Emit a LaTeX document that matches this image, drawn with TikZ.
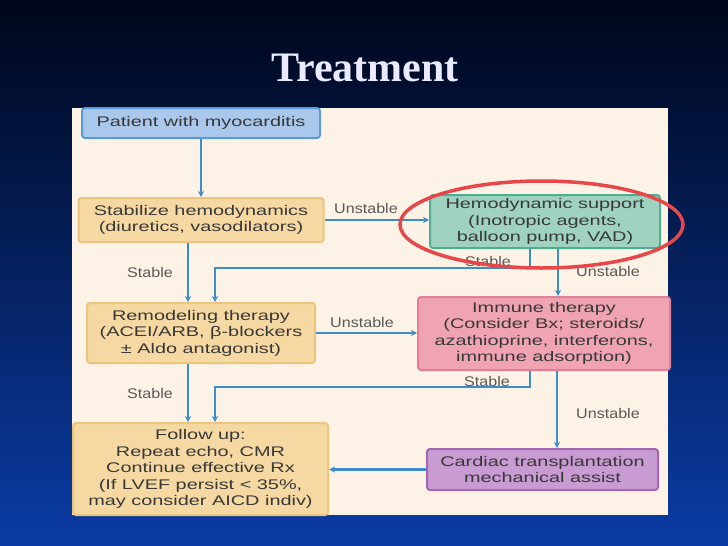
\documentclass[tikz,border=0pt]{standalone}
\usepackage{fontspec}
\usetikzlibrary{arrows.meta}
\newfontfamily\boxfont[FakeStretch=1.42]{Liberation Sans}
\newfontfamily\lblfont[FakeStretch=1.15]{Liberation Sans}
\newfontfamily\titlefont{Liberation Serif}
\definecolor{bgtop}{HTML}{00061A}
\definecolor{bgbot}{HTML}{0A3CA5}
\definecolor{panel}{HTML}{FCF2E6}
\definecolor{conn}{HTML}{3C8DC8}
\definecolor{tanfill}{HTML}{F6D9A2}
\definecolor{tanline}{HTML}{EBC57D}
\definecolor{bluefill}{HTML}{A9C8EC}
\definecolor{blueline}{HTML}{5B9BD5}
\definecolor{greenfill}{HTML}{9FD3BF}
\definecolor{greenline}{HTML}{4DAE93}
\definecolor{pinkfill}{HTML}{EFA3B3}
\definecolor{pinkline}{HTML}{E17F98}
\definecolor{purplefill}{HTML}{C99BD3}
\definecolor{purpleline}{HTML}{A267B0}
\definecolor{ringred}{HTML}{E8474A}
\tikzset{
  box/.style={rounded corners=3pt,line width=2pt,align=center,inner sep=2pt,
    text=black!78,font=\boxfont\fontsize{14pt}{16.5pt}\selectfont},
  tanbox/.style={box,fill=tanfill,draw=tanline},
  arrowline/.style={line width=2.4pt,draw=conn,-{Stealth[length=6pt,width=6pt]}},
  lbl/.style={text=black!65,font=\lblfont\fontsize{14pt}{16pt}\selectfont,inner sep=1pt}
}
\begin{document}
\begin{tikzpicture}[x=1pt,y=-1pt]
\useasboundingbox (0,0) rectangle (728,546);
\shade[top color=bgtop,bottom color=bgbot] (0,0) rectangle (728,546);
\fill[panel] (72,108) rectangle (668,515);
\node[text=white!92!blue,font=\titlefont\bfseries\fontsize{42pt}{46pt}\selectfont] (title) at (365,68) {Treatment};
% boxes
\node[box,fill=bluefill,draw=blueline,minimum width=238pt,minimum height=30pt] (pat) at (201,123) {Patient with myocarditis};
\node[tanbox,minimum width=245pt,minimum height=44pt] (stab) at (201,220) {Stabilize hemodynamics\\(diuretics, vasodilators)};
\node[box,fill=greenfill,draw=greenline,minimum width=230pt,minimum height=53pt] (hemo) at (545,221.5) {Hemodynamic support\\(Inotropic agents,\\balloon pump, VAD)};
\node[tanbox,minimum width=228pt,minimum height=60pt] (remod) at (201,333) {Remodeling therapy\\(ACEI/ARB, β-blockers\\± Aldo antagonist)};
\node[box,fill=pinkfill,draw=pinkline,minimum width=252pt,minimum height=73pt] (immu) at (544,333.5) {Immune therapy\\(Consider Bx; steroids/\\azathioprine, interferons,\\immune adsorption)};
\node[tanbox,minimum width=255pt,minimum height=92pt] (follow) at (200.5,469) {Follow up:\\Repeat echo, CMR\\Continue effective Rx\\(If LVEF persist < 35\%,\\may consider AICD indiv)};
\node[box,fill=purplefill,draw=purpleline,minimum width=231pt,minimum height=41pt] (card) at (542.5,469.5) {Cardiac transplantation\\mechanical assist};
% connectors
\coordinate (s1) at (215,268);
\coordinate (s2) at (215,387);
\draw[arrowline] (pat) -- (stab);
\draw[arrowline] (stab.east) -- (stab.east -| hemo.west);
\draw[arrowline] ([xshift=-13pt]stab.south) -- ([xshift=-13pt]stab.south |- remod.north);
\draw[arrowline] ([xshift=-15pt]hemo.south) |- (s1) -- (s1 |- remod.north);
\draw[arrowline] ([xshift=13pt]hemo.south) -- ([xshift=13pt]hemo.south |- immu.north);
\draw[arrowline] (remod.east) -- (remod.east -| immu.west);
\draw[arrowline] ([xshift=-13pt]remod.south) -- ([xshift=-13pt]remod.south |- follow.north);
\draw[arrowline] ([xshift=-14pt]immu.south) |- (s2) -- (s2 |- follow.north);
\draw[arrowline] ([xshift=13pt]immu.south) -- ([xshift=13pt]immu.south |- card.north);
\draw[arrowline] (card.west) -- (card.west -| follow.east);
% labels
\node[lbl] (u1) at (366,208) {Unstable};
\node[lbl] (st1) at (150,272) {Stable};
\node[lbl] (st2) at (488,261) {Stable};
\node[lbl] (u2) at (608,271) {Unstable};
\node[lbl] (u3) at (362,322) {Unstable};
\node[lbl] (st3) at (150,393) {Stable};
\node[lbl] (st4) at (487,381) {Stable};
\node[lbl] (u4) at (608,413) {Unstable};
% red ring
\draw[ringred,line width=3.5pt] (541.5,224.5) ellipse (141.5pt and 43.5pt);
\end{tikzpicture}
\end{document}
